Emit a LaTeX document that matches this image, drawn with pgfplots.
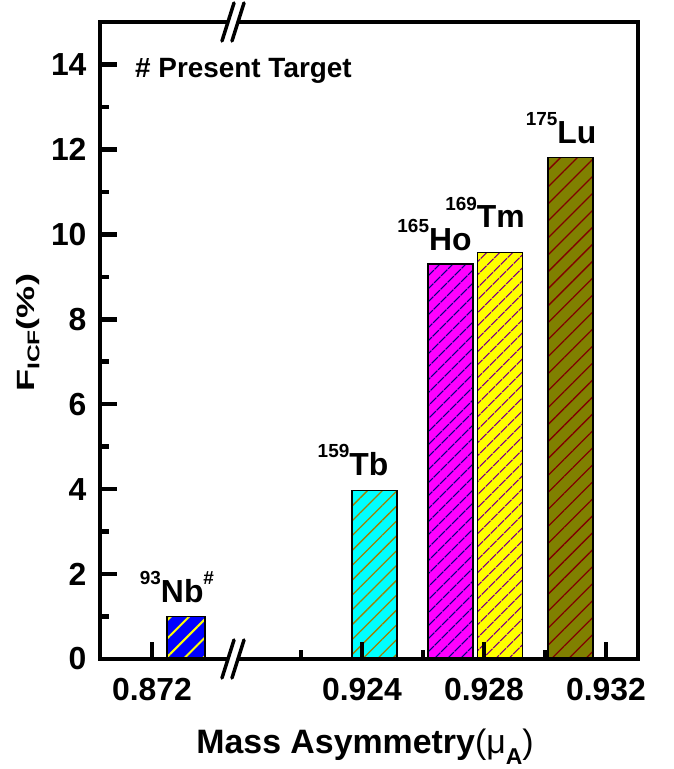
\documentclass[border=0pt]{standalone}
\usepackage{fontspec}
\setmainfont{Liberation Sans}
\usepackage{graphicx}
\usepackage{pgfplots}
\pgfplotsset{compat=1.18}
\usetikzlibrary{patterns.meta,calc}

\definecolor{fillNb}{RGB}{0,0,255}
\definecolor{fillTb}{RGB}{0,255,255}
\definecolor{fillHo}{RGB}{255,0,255}
\definecolor{fillTm}{RGB}{255,255,0}
\definecolor{fillLu}{RGB}{128,128,0}
\definecolor{hatchNb}{RGB}{255,255,0}
\definecolor{hatchTb}{RGB}{160,128,0}
\definecolor{hatchHo}{RGB}{0,0,128}
\definecolor{hatchTm}{RGB}{128,0,128}
\definecolor{hatchLu}{RGB}{128,0,0}

% isotope label: mass number as a raised superscript
\newcommand{\sps}[1]{\raisebox{0.56em}{\fontsize{19}{19}\selectfont #1}}

\begin{document}
\begin{tikzpicture}
\begin{axis}[
  at={(0,0)}, anchor=south west,
  scale only axis, width=538bp, height=637bp,
  xmin=0.91541, xmax=0.933049, ymin=0, ymax=15,
  xtick={0.917115,0.924,0.928,0.932},
  xticklabels={0.872,0.924,0.928,0.932},
  minor xtick={0.922,0.926,0.930},
  ytick={0,2,...,14}, minor ytick={1,3,...,13},
  xtick pos=left, ytick pos=left, tick align=inside,
  major tick length=17bp, minor tick length=9bp,
  major tick style={black, line width=4.5bp},
  minor tick style={black, line width=4.5bp},
  axis line style={line width=4.5bp},
  axis on top,
  /pgf/number format/assume math mode=true,
  tick label style={font=\fontsize{32}{32}\selectfont\bfseries},
  xticklabel style={yshift=-16bp},
  yticklabel style={xshift=-10bp},
  every axis x label/.style={at={(axis description cs:0.4926,-0.1476)}, anchor=base},
  every axis y label/.style={at={(axis description cs:-0.134,0.512)}, rotate=90, anchor=center},
  xlabel={\fontsize{34}{34}\selectfont\bfseries Mass Asymmetry{\mdseries(μ}\raisebox{-11bp}{\fontsize{23}{23}\selectfont A}{\mdseries)}},
  ylabel={\scalebox{1.45}[1]{\fontsize{25}{25}\selectfont\bfseries F\raisebox{-5bp}{\fontsize{17}{17}\selectfont ICF}(\%)}},
  clip=false,
]
% 93Nb (present target)
\addplot[ybar, bar shift=0pt, bar width=0.001246, draw=black, line width=1.2bp,
  preaction={fill=fillNb},
  pattern={Lines[angle=45,distance=13bp,line width=2bp]}, pattern color=hatchNb]
  coordinates {(0.91823,1.0)};
% 159Tb
\addplot[ybar, bar shift=0pt, bar width=0.001475, draw=black, line width=1.2bp,
  preaction={fill=fillTb},
  pattern={Lines[angle=45,distance=10.5bp,line width=1.3bp]}, pattern color=hatchTb]
  coordinates {(0.92441,3.96)};
% 165Ho
\addplot[ybar, bar shift=0pt, bar width=0.001475, draw=black, line width=1.2bp,
  preaction={fill=fillHo},
  pattern={Lines[angle=45,distance=9.5bp,line width=1.3bp]}, pattern color=hatchHo]
  coordinates {(0.926902,9.30)};
% 169Tm
\addplot[ybar, bar shift=0pt, bar width=0.001475, draw=black, line width=1.2bp,
  preaction={fill=fillTm},
  pattern={Lines[angle=45,distance=10bp,line width=1.3bp]}, pattern color=hatchTm]
  coordinates {(0.928525,9.58)};
% 175Lu
\addplot[ybar, bar shift=0pt, bar width=0.001475, draw=black, line width=1.2bp,
  preaction={fill=fillLu},
  pattern={Lines[angle=45,distance=12bp,line width=1.3bp]}, pattern color=hatchLu]
  coordinates {(0.930836,11.80)};

\begin{scope}[every node/.style={font=\fontsize{32}{32}\selectfont\bfseries, inner sep=0pt}]
\node[anchor=base] at (axis cs:0.917934,1.342) {\sps{93}Nb\sps{\#}};
\node[anchor=base] at (axis cs:0.923705,4.33) {\sps{159}Tb};
\node[anchor=base] at (axis cs:0.926377,9.63) {\sps{165}Ho};
\node[anchor=base] at (axis cs:0.928033,10.15) {\sps{169}Tm};
\node[anchor=base] at (axis cs:0.930525,12.15) {\sps{175}Lu};
\end{scope}
\node[anchor=base west, inner sep=0pt, font=\fontsize{28}{28}\selectfont\bfseries]
  at (axis cs:0.916557,13.70) {\# Present Target};

\coordinate (brb) at (axis cs:0.91977,0);
\coordinate (brt) at (axis cs:0.91977,15);
\end{axis}

% axis break marks on the bottom and top lines
\foreach \p in {brb,brt}{
  \begin{scope}[shift={(\p)}]
    \fill[white] (-11bp,-19bp) -- (1bp,19bp) -- (11bp,19bp) -- (-1bp,-19bp) -- cycle;
    \draw[line width=3.5bp, line cap=round] (-11bp,-19bp) -- (1bp,19bp);
    \draw[line width=3.5bp, line cap=round] (-1bp,-19bp) -- (11bp,19bp);
  \end{scope}
}

\pgfresetboundingbox
\path[use as bounding box] ($(current axis.south west)+(-100bp,-110bp)$) rectangle ($(current axis.north east)+(36bp,22bp)$);
\end{tikzpicture}
\end{document}
